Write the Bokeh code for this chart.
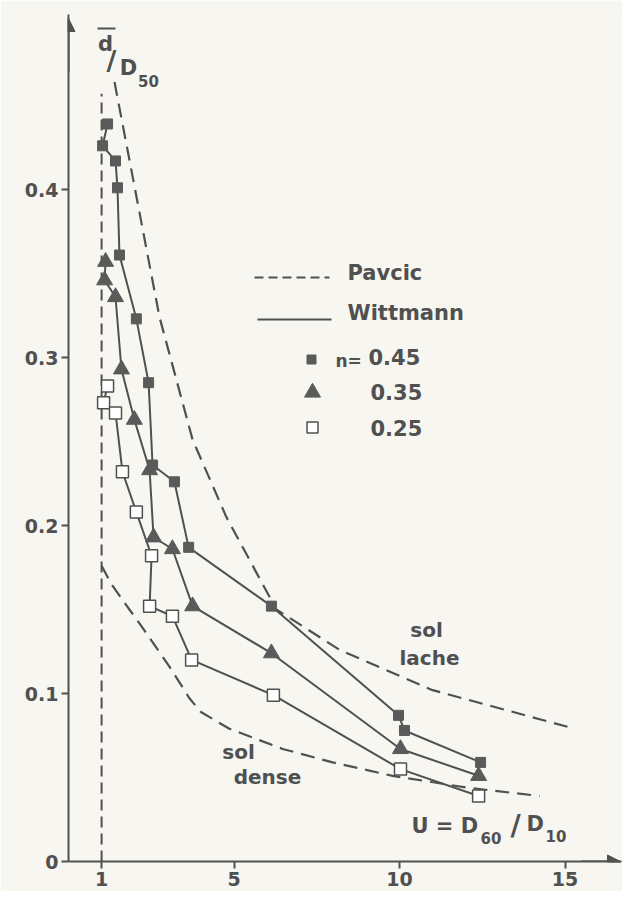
from bokeh.plotting import figure
from bokeh.models import Range1d, FixedTicker, Label, Arrow, NormalHead
from bokeh.embed import file_html
from bokeh.resources import INLINE

# ---------------- data ----------------
x_ticks = [1, 5, 10, 15]
y_ticks = [0, 0.1, 0.2, 0.3, 0.4]

# Wittmann, n = 0.45 (filled squares)
u_045 = [1.18, 1.03, 1.42, 1.48, 1.54, 2.05, 2.42, 2.54, 3.20, 3.63, 6.13, 9.97, 10.15, 12.45]
d_045 = [0.439, 0.426, 0.417, 0.401, 0.361, 0.323, 0.285, 0.236, 0.226, 0.187, 0.152, 0.087, 0.078, 0.059]

# Wittmann, n = 0.35 (triangles)
u_035 = [1.12, 1.09, 1.42, 1.60, 1.99, 2.45, 2.57, 3.14, 3.75, 6.13, 10.03, 12.39]
d_035 = [0.357, 0.346, 0.336, 0.293, 0.263, 0.233, 0.193, 0.186, 0.152, 0.124, 0.067, 0.051]

# Wittmann, n = 0.25 (open squares)
u_025 = [1.18, 1.06, 1.42, 1.63, 2.05, 2.51, 2.45, 3.14, 3.72, 6.19, 10.03, 12.39]
d_025 = [0.283, 0.273, 0.267, 0.232, 0.208, 0.182, 0.152, 0.146, 0.120, 0.099, 0.055, 0.039]

# Pavcic, loose soil (sol lache)
u_lache = [1.39, 2.75, 3.75, 4.77, 6.28, 8.19, 11.0, 15.3]
d_lache = [0.464, 0.324, 0.251, 0.205, 0.150, 0.126, 0.102, 0.079]

# Pavcic, dense soil (sol dense)
u_dense = [1.0, 1.3, 1.84, 2.24, 3.05, 3.66, 4.0, 4.86, 6.47, 7.98, 9.79, 12.02, 14.23]
d_dense = [0.176, 0.165, 0.150, 0.139, 0.116, 0.097, 0.089, 0.079, 0.067, 0.059, 0.051, 0.044, 0.039]

# Pavcic limit U = 1
u_limit = [1.0, 1.0]
d_limit = [0.0, 0.457]

# ---------------- style ----------------
BG = "#f7f6f0"
INK = "#505050"
FILL = "#5a5a5a"
FONT = "DejaVu Sans"

X0_PX, X_SCALE = 69.0, 33.1     # reference pixel of U=0 and px per unit
Y0_PX, Y_SCALE = 862.0, 1680.0  # reference pixel of d=0 and px per unit


def fx(px):
    return (px - X0_PX) / X_SCALE


def fy(py):
    return (Y0_PX - py) / Y_SCALE


p = figure(
    frame_width=553, frame_height=847,
    x_range=Range1d(0, 553 / X_SCALE), y_range=Range1d(0, 847 / Y_SCALE),
    output_backend="svg", toolbar_location=None,
    min_border_left=68, min_border_top=14, min_border_right=1, min_border_bottom=30,
    background_fill_color=BG, border_fill_color=BG, outline_line_color=None,
)
p.xgrid.visible = False
p.ygrid.visible = False

p.xaxis.ticker = FixedTicker(ticks=x_ticks)
p.yaxis.ticker = FixedTicker(ticks=y_ticks)
p.yaxis.major_label_overrides = {0: "0"}
for ax in (p.xaxis, p.yaxis):
    ax.axis_line_width = 2
    ax.axis_line_color = INK
    ax.major_tick_line_width = 2
    ax.major_tick_line_color = INK
    ax.major_tick_out = 7
    ax.major_tick_in = 0
    ax.minor_tick_out = 0
    ax.minor_tick_in = 0
    ax.major_label_text_font = FONT
    ax.major_label_text_font_style = "bold"
    ax.major_label_text_font_size = "19px"
    ax.major_label_text_color = INK
    ax.major_label_standoff = 3

# axis arrows
p.add_layout(Arrow(end=NormalHead(size=13, fill_color=INK, line_color=INK),
                   x_start=0, y_start=0.47, x_end=0, y_end=fy(19),
                   line_width=2, line_color=INK))
p.add_layout(Arrow(end=NormalHead(size=13, fill_color=INK, line_color=INK),
                   x_start=15.5, y_start=0, x_end=fx(621), y_end=0,
                   line_width=2, line_color=INK))

# Pavcic dashed curves
p.line(u_limit, d_limit, line_color=INK, line_width=2, line_dash="11 6")
p.line(u_lache, d_lache, line_color=INK, line_width=2.2, line_dash="14 8")
p.line(u_dense, d_dense, line_color=INK, line_width=2.2, line_dash="14 8")

# Wittmann solid curves
p.line(u_045, d_045, line_color=INK, line_width=2)
p.line(u_035, d_035, line_color=INK, line_width=2)
p.line(u_025, d_025, line_color=INK, line_width=2)

p.scatter(u_045, d_045, marker="square", size=10, fill_color=FILL, line_color=FILL)
p.scatter(u_035, d_035, marker="triangle", size=16, fill_color=FILL, line_color=FILL)
p.scatter(u_025, d_025, marker="square", size=12, fill_color="white", line_color=INK, line_width=1.5)


def lab(text, px, py, size, align="left", baseline="middle", style="bold"):
    p.add_layout(Label(x=fx(px), y=fy(py), text=text, text_font=FONT,
                       text_font_style=style, text_font_size=f"{size}px",
                       text_color=INK, text_align=align, text_baseline=baseline))


# legend
p.line([fx(255), fx(330)], [fy(278), fy(278)], line_color=INK, line_width=2, line_dash="9 5")
lab("Pavcic", 348, 273, 21)
p.line([fx(258), fx(332)], [fy(320), fy(320)], line_color=INK, line_width=2)
lab("Wittmann", 348, 313, 21)
p.scatter([fx(312)], [fy(360)], marker="square", size=9, fill_color=FILL, line_color=FILL)
lab("n=", 336, 361, 17)
lab("0.45", 369, 357, 21)
p.scatter([fx(313)], [fy(393)], marker="triangle", size=16, fill_color=FILL, line_color=FILL)
lab("0.35", 371, 392, 21)
p.scatter([fx(313)], [fy(428)], marker="square", size=11, fill_color="white", line_color=INK, line_width=1.5)
lab("0.25", 371, 428, 21)

# region labels
lab("sol", 427, 630, 20, align="center")
lab("lache", 430, 658, 20, align="center")
lab("sol", 239, 752, 20, align="center")
lab("dense", 268, 777, 20, align="center")

# y-axis title  d̄ / D50
lab("d", 106, 44, 21, align="center")
p.line([fx(98), fx(116)], [fy(29), fy(29)], line_color=INK, line_width=2)
lab("/", 112, 61, 27, align="center")
lab("D", 129, 68, 21, align="center")
lab("50", 149, 81, 15, align="center")

# x-axis title  U = D60 / D10
lab("U = D", 412, 826, 21, align="left")
lab("60", 481, 838, 15, align="left")
lab("/", 516, 826, 28, align="center")
lab("D", 527, 824, 21, align="left")
lab("10", 546, 836, 15, align="left")

open("out.html", "w").write(file_html(p, INLINE))
